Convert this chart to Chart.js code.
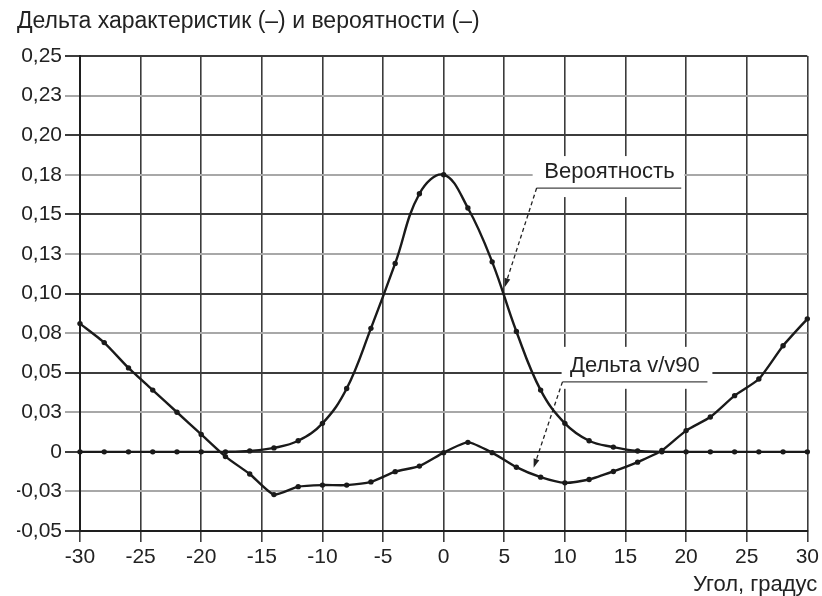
<!DOCTYPE html>
<html>
<head>
<meta charset="utf-8">
<script src="https://cdn.jsdelivr.net/npm/chart.js@4/dist/chart.umd.min.js"></script>
<style>
  html, body { margin: 0; padding: 0; background: #ffffff; }
  #wrap { width: 822px; height: 596px; }
</style>
</head>
<body>
<div id="wrap"><canvas id="c" width="822" height="596"></canvas></div>
<script>
// ---- data ----
const angles = [-30, -28, -26, -24, -22, -20, -18, -16, -14, -12, -10, -8, -6, -4, -2, 0,
                2, 4, 6, 8, 10, 12, 14, 16, 18, 20, 22, 24, 26, 28, 30];
const probability = [0, 0, 0, 0, 0, 0, 0, 0.0006, 0.0025, 0.007, 0.018, 0.040, 0.078, 0.119, 0.163, 0.175,
                     0.154, 0.120, 0.076, 0.039, 0.018, 0.007, 0.003, 0.0005, 0, 0, 0, 0, 0, 0, 0];
const deltaV = [0.081, 0.069, 0.053, 0.039, 0.025, 0.011, -0.003, -0.014, -0.027, -0.022, -0.021, -0.021, -0.019, -0.0125, -0.009, -0.0005,
                0.006, -0.0005, -0.0097, -0.016, -0.0196, -0.0175, -0.0124, -0.0065, 0.0008, 0.0134, 0.022, 0.0355, 0.046, 0.067, 0.084];
const seriesNames = ['Вероятность', 'Дельта v/v90'];
const xTickLabels = ['-30', '-25', '-20', '-15', '-10', '-5', '0', '5', '10', '15', '20', '25', '30'];
const yTickLabels = ['-0,05', '-0,03', '0', '0,03', '0,05', '0,08', '0,10', '0,13', '0,15', '0,18', '0,20', '0,23', '0,25'];
const chartTitle = 'Дельта характеристик (–) и вероятности (–)';
const xAxisTitle = 'Угол, градус';

// label callouts, in data units
const callouts = [
  { text: seriesNames[0], tx: 13.68, ty: 0.1767, box: [7.34, 0.1868, 19.86, 0.1609], under: [7.67, 19.6, 0.1666], tip: [5.03, 0.104] },
  { text: seriesNames[1], tx: 15.78, ty: 0.0543, box: [9.73, 0.0663, 22.17, 0.0398], under: [9.8, 21.76, 0.0442], tip: [7.42, -0.0101] }
];

const FONT = '"Liberation Sans", Arial, Helvetica, sans-serif';
const TXT = '#222222';

const calloutPlugin = {
  id: 'callouts',
  beforeDatasetsDraw(chart) {
    const ctx = chart.ctx, xs = chart.scales.x, ys = chart.scales.y;
    ctx.save();
    callouts.forEach(c => {
      const bx0 = xs.getPixelForValue(c.box[0]), by0 = ys.getPixelForValue(c.box[1]);
      const bx1 = xs.getPixelForValue(c.box[2]), by1 = ys.getPixelForValue(c.box[3]);
      ctx.fillStyle = '#ffffff';
      ctx.fillRect(bx0, by0, bx1 - bx0, by1 - by0);
      ctx.fillStyle = TXT;
      ctx.font = '22px ' + FONT;
      ctx.textAlign = 'center';
      ctx.textBaseline = 'middle';
      ctx.fillText(c.text, xs.getPixelForValue(c.tx), ys.getPixelForValue(c.ty));
      const ux0 = xs.getPixelForValue(c.under[0]), ux1 = xs.getPixelForValue(c.under[1]);
      const uy = ys.getPixelForValue(c.under[2]);
      ctx.strokeStyle = '#444';
      ctx.lineWidth = 1.3;
      ctx.setLineDash([]);
      ctx.beginPath(); ctx.moveTo(ux0, uy); ctx.lineTo(ux1, uy); ctx.stroke();
      const tx = xs.getPixelForValue(c.tip[0]), ty = ys.getPixelForValue(c.tip[1]);
      ctx.strokeStyle = '#222';
      ctx.setLineDash([4, 3]);
      ctx.beginPath(); ctx.moveTo(ux0, uy); ctx.lineTo(tx, ty); ctx.stroke();
      ctx.setLineDash([]);
      const ang = Math.atan2(ty - uy, tx - ux0);
      const L = 9, W = 3;
      ctx.fillStyle = '#222';
      ctx.beginPath();
      ctx.moveTo(tx, ty);
      ctx.lineTo(tx - L * Math.cos(ang) + W * Math.sin(ang), ty - L * Math.sin(ang) - W * Math.cos(ang));
      ctx.lineTo(tx - L * Math.cos(ang) - W * Math.sin(ang), ty - L * Math.sin(ang) + W * Math.cos(ang));
      ctx.closePath();
      ctx.fill();
    });
    ctx.restore();
  },
  afterDraw(chart) {
    const ctx = chart.ctx, xs = chart.scales.x;
    ctx.save();
    ctx.fillStyle = TXT;
    ctx.font = '22px ' + FONT;
    ctx.textAlign = 'right';
    ctx.textBaseline = 'middle';
    ctx.fillText(xAxisTitle, xs.right + 10, 585);
    ctx.restore();
  }
};

const lineStyle = {
  borderColor: '#1a1a1a',
  backgroundColor: '#1a1a1a',
  borderWidth: 2.4,
  pointRadius: 2.7,
  pointBorderWidth: 0,
  pointHoverRadius: 2.7,
  fill: false,
  clip: false
};

new Chart(document.getElementById('c'), {
  type: 'line',
  data: {
    datasets: [
      Object.assign({ label: seriesNames[0], tension: 0.4, data: angles.map((a, i) => ({ x: a, y: probability[i] })) }, lineStyle),
      Object.assign({ label: seriesNames[1], tension: 0.2, data: angles.map((a, i) => ({ x: a, y: deltaV[i] })) }, lineStyle)
    ]
  },
  options: {
    responsive: false,
    animation: false,
    devicePixelRatio: 1,
    layout: { padding: { left: 17, right: 14, top: 0, bottom: 0 } },
    plugins: {
      legend: { display: false },
      tooltip: { enabled: false },
      title: {
        display: true,
        text: chartTitle,
        align: 'start',
        color: TXT,
        font: { family: FONT, size: 23, weight: 'normal' },
        padding: { top: 8, bottom: 20.4 }
      }
    },
    scales: {
      x: {
        type: 'linear',
        min: -30, max: 30,
        ticks: {
          stepSize: 5, autoSkip: false, maxRotation: 0, padding: 3, color: TXT,
          font: { family: FONT, size: 21 },
          callback: (v, i) => xTickLabels[i]
        },
        grid: { color: '#3c3c3c', lineWidth: 1.6, tickLength: 11, drawTicks: true },
        border: { color: '#1e1e1e', width: 2 },
        afterFit(s) { s.height = 65; }
      },
      y: {
        type: 'linear',
        min: -0.05, max: 0.25,
        ticks: {
          stepSize: 0.025, autoSkip: false, padding: 3, color: TXT,
          font: { family: FONT, size: 21 },
          callback: (v, i) => yTickLabels[i]
        },
        grid: {
          color: ctx => (ctx.index % 2 === 0 ? '#3c3c3c' : '#a8a8a8'),
          lineWidth: 2,
          tickLength: 15,
          drawTicks: true
        },
        border: { color: '#1e1e1e', width: 2 },
        afterFit(s) { s.width = 63; }
      }
    }
  },
  plugins: [calloutPlugin]
});
</script>
</body>
</html>
